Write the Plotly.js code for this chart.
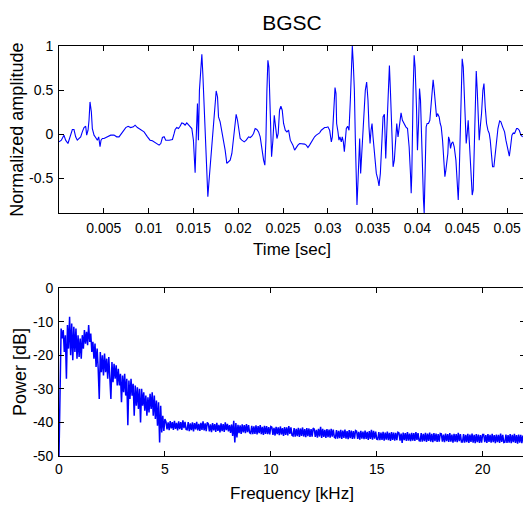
<!DOCTYPE html>
<html>
<head>
<meta charset="utf-8">
<script src="https://cdn.plot.ly/plotly-3.0.1.min.js"></script>
<style>
html,body{margin:0;padding:0;background:#fff;overflow:hidden;width:523px;height:505px;}
#chart{width:526px;height:505px;}
</style>
</head>
<body>
<div id="chart"></div>
<script>
// ---- Top panel: waveform (time in ms, normalized amplitude) ----
const timeMs = [
0.0,0.26,0.55,0.74,1.00,1.22,1.49,1.67,1.86,2.04,2.23,2.42,2.60,2.79,2.98,3.09,3.24,3.35,3.46,3.61,3.72,3.91,4.09,4.28,4.43,4.58,4.69,4.84,5.02,5.40,5.77,6.14,6.44,6.70,7.07,7.45,7.71,8.00,8.30,8.49,8.75,9.12,9.49,9.87,10.16,10.42,10.80,11.17,11.36,11.54,11.73,11.91,12.29,12.66,12.85,
12.96,13.14,13.33,13.51,13.70,13.89,14.07,14.26,14.45,14.63,14.82,15.00,15.12,15.19,15.30,15.38,15.45,15.56,15.67,15.82,15.94,16.05,16.20,16.35,16.49,16.61,16.72,16.87,17.05,17.24,17.43,17.54,17.69,17.80,17.98,18.17,18.36,18.54,18.73,18.92,19.10,19.29,19.47,19.66,19.77,19.92,20.07,20.22,20.40,20.67,20.89,21.15,21.34,21.52,21.71,21.89,22.08,22.27,22.45,22.64,22.83,22.97,23.09,23.20,23.31,23.42,23.53,23.65,23.72,23.87,24.02,24.17,24.32,24.46,24.61,24.76,24.91,25.06,25.25,25.43,25.62,25.81,
26.10,26.29,26.47,26.66,26.85,27.03,27.22,27.41,27.59,27.78,27.96,28.15,28.34,28.52,28.71,28.90,29.08,29.27,29.45,29.64,29.83,30.01,30.20,30.39,30.50,30.61,30.72,30.80,30.91,30.98,31.13,31.24,31.35,31.50,31.61,31.73,31.84,31.95,32.06,32.21,32.36,32.51,32.62,32.73,32.84,32.96,33.07,33.18,33.25,33.37,33.48,33.55,33.66,33.77,33.89,34.04,34.18,34.33,34.48,34.59,34.71,34.82,34.93,35.04,35.15,35.26,35.41,35.60,35.71,35.86,36.01,36.16,36.31,36.46,36.61,36.75,36.87,36.98,37.13,37.28,37.42,37.57,37.69,37.83,38.02,38.17,38.32,38.58,
38.70,38.89,39.07,39.22,39.30,39.37,39.44,39.52,39.63,39.74,39.89,40.00,40.12,40.23,40.34,40.45,40.56,40.67,40.75,40.86,40.97,41.08,41.23,41.38,41.49,41.61,41.75,41.87,41.98,42.13,42.24,42.42,42.54,42.65,42.80,42.91,43.06,43.17,43.28,43.39,43.47,43.58,43.69,43.80,43.95,44.10,44.29,44.44,44.55,44.66,44.77,44.88,44.99,45.11,45.22,45.33,45.44,45.55,45.66,45.78,45.89,46.00,46.11,46.22,46.33,46.45,46.56,46.67,46.78,46.89,47.01,47.15,47.30,47.42,47.56,47.71,47.86,48.01,48.12,48.23,48.38,48.53,48.68,48.83,48.98,49.17,49.31,49.50,49.72,49.87,50.06,50.25,50.39,50.54,50.69,50.84,51.06,51.18,51.36,51.55,51.74
];
const amplitude = [
-0.087,-0.068,-0.011,-0.068,-0.106,-0.03,0.053,0.053,-0.03,-0.068,-0.049,-0.03,0.026,0.075,0.09,-0.011,0.045,0.158,0.366,0.253,0.064,-0.011,-0.038,-0.068,-0.03,-0.143,-0.068,-0.049,-0.049,-0.03,-0.011,-0.011,-0.03,-0.03,0.026,0.075,0.09,0.075,0.083,0.102,0.075,0.053,0.026,-0.03,-0.068,-0.075,-0.098,-0.124,-0.106,-0.038,-0.03,-0.068,-0.068,-0.06,0.008,
0.053,0.075,0.064,0.09,0.128,0.121,0.102,0.128,0.102,0.083,0.064,-0.068,-0.256,-0.437,-0.068,0.309,0.347,-0.068,0.498,0.724,0.905,0.686,0.309,-0.03,-0.445,-0.709,-0.558,-0.37,-0.068,0.158,0.347,0.49,0.422,0.196,0.14,0.045,-0.068,-0.181,-0.332,-0.313,-0.294,-0.219,-0.03,0.196,0.226,0.158,0.045,-0.049,-0.068,-0.087,-0.068,-0.03,-0.038,-0.023,0.008,0.064,0.053,0.026,-0.03,-0.181,-0.294,-0.351,-0.068,0.498,0.837,0.762,0.309,-0.068,-0.256,-0.068,0.215,0.083,-0.049,0.008,0.272,0.317,0.272,0.121,0.045,0.026,0.045,-0.068,
-0.124,-0.181,-0.151,-0.124,-0.106,-0.106,-0.106,-0.113,-0.124,-0.151,-0.124,-0.087,-0.068,-0.03,-0.011,0.0,0.015,0.045,0.064,0.075,0.075,0.083,0.045,-0.087,-0.03,0.158,0.385,0.528,0.46,0.121,0.026,-0.068,-0.03,-0.087,-0.03,-0.087,-0.2,-0.068,0.064,0.09,0.045,0.385,0.724,1.0,0.8,0.498,-0.068,-0.52,-0.803,-0.52,-0.143,-0.049,-0.445,-0.256,0.008,0.309,0.498,0.592,0.385,0.083,-0.106,0.045,0.121,-0.03,-0.143,-0.332,-0.445,-0.52,-0.588,-0.445,-0.068,0.196,0.226,-0.275,0.121,0.573,0.78,0.498,-0.068,-0.37,-0.294,-0.068,0.121,-0.03,0.158,0.241,0.158,0.102,
0.083,0.064,-0.143,-0.445,-0.671,-0.445,0.121,0.498,0.894,0.762,0.309,-0.181,0.121,0.517,0.385,-0.068,-0.445,-0.747,-0.897,-0.445,0.083,0.121,0.121,0.158,0.309,0.498,0.618,0.498,0.309,0.196,0.234,0.196,0.121,0.083,-0.068,-0.256,-0.483,-0.407,-0.313,-0.219,-0.03,-0.068,-0.162,-0.106,-0.087,-0.143,-0.294,-0.596,-0.747,-0.445,0.121,0.686,0.856,0.762,0.498,0.196,-0.106,0.008,0.158,-0.068,-0.294,-0.52,-0.69,-0.633,-0.068,0.385,0.716,0.498,0.121,-0.068,0.083,0.234,0.498,0.573,0.309,0.121,0.045,0.008,-0.068,-0.219,-0.37,-0.37,-0.219,-0.03,0.064,0.151,0.14,0.083,0.026,-0.068,-0.181,-0.249,-0.143,-0.011,0.015,0.008,0.064,0.064,0.045,-0.011,-0.03
];
const timeTickVals = [0.005,0.01,0.015,0.02,0.025,0.03,0.035,0.04,0.045,0.05];
const timeTickText = ['0.005','0.01','0.015','0.02','0.025','0.03','0.035','0.04','0.045','0.05'];
const ampTickVals = [-0.5,0,0.5,1];
const ampTickText = ['-0.5','0','0.5','1'];

// ---- Bottom panel: power spectrum, one value per 0.05 kHz bin from 0 to 22 kHz ----
const freqStepKHz = 0.05;
const powerLowDb = [
-50,-28,-12,-15,-12.5,-19,-14,-27,-11,-18,-8.5,-20,-10.5,-21.5,-11.5,-19,-12,-21,-14,-20.5,
-15,-21,-14,-18,-12.5,-16.5,-13,-17,-11,-16,-13.5,-19,-16,-21,-16.5,-23.5,-18,-24,-33,-19,
-25,-20,-26,-19.5,-25,-21,-27,-20.5,-26,-33,-22,-28,-22.5,-27,-23,-29,-24,-29,-25.5,-34,
-26,-31,-25.5,-32,-27,-40.8,-27.5,-33,-27,-32,-28.5,-38,-29,-35,-29.5,-36,-30,-40,-30,-35,
-31,-36.5,-32,-38,-32.5,-37,-31.5,-36,-31,-38,-32,-39,-33.5,-41,-34,-46,-35,-43,-38,-42.5,
-39
];
const powerHighDb = [
-39.8,-42.1,-40.0,-42.3,-39.6,-41.8,-39.9,-42.2,-39.5,-41.9,-40.1,-42.4,-39.7,-42.0,-39.9,-42.2,-39.4,-41.7,-39.8,-42.1,
-42.2,-39.9,-42.6,-40.3,-42.3,-40.0,-42.7,-40.2,-42.1,-39.8,-42.4,-40.4,-42.5,-40.1,-42.2,-39.7,-42.4,-40.3,-42.6,-40.0,
-40.4,-42.7,-40.6,-42.9,-40.2,-42.4,-40.5,-42.8,-40.1,-42.5,-40.7,-43.0,-40.3,-42.6,-40.5,-42.8,-40.0,-42.3,-40.4,-42.7,
-40.8,-43.1,-40.6,-44.0,-39.5,-46.0,-40.2,-44.5,-40.7,-43.2,-40.9,-43.4,-40.6,-43.0,-40.8,-43.2,-40.5,-42.9,-40.8,-43.1,
-43.3,-41.0,-43.5,-41.2,-43.4,-40.9,-43.6,-41.1,-43.2,-40.8,-43.5,-41.3,-43.7,-41.0,-43.4,-41.1,-43.5,-41.4,-43.6,-41.2,
-41.4,-43.7,-41.6,-43.9,-41.3,-43.5,-41.5,-43.8,-41.2,-43.6,-41.7,-44.0,-41.4,-43.7,-41.5,-43.9,-41.1,-43.4,-41.5,-43.8,
-44.0,-41.7,-44.2,-41.9,-44.1,-41.6,-44.3,-41.8,-44.0,-41.5,-44.2,-42.0,-44.4,-41.7,-44.1,-41.8,-44.3,-42.0,-44.2,-41.7,
-42.0,-44.3,-42.2,-44.5,-41.9,-44.2,-41.3,-44.6,-41.9,-44.3,-42.2,-44.6,-42.0,-44.4,-42.1,-44.5,-41.9,-44.2,-42.1,-44.4,
-44.6,-42.3,-44.8,-42.5,-44.7,-42.2,-44.9,-42.4,-44.6,-42.1,-44.8,-42.6,-45.0,-42.3,-44.7,-42.4,-44.9,-42.6,-44.8,-42.4,
-42.6,-44.9,-42.8,-45.1,-42.5,-44.8,-42.7,-45.0,-42.4,-44.9,-42.8,-45.2,-42.6,-44.9,-42.2,-45.1,-42.5,-44.8,-42.7,-45.0,
-45.1,-42.9,-45.3,-43.0,-45.2,-42.8,-45.4,-43.0,-45.1,-42.7,-45.3,-43.1,-45.5,-42.9,-45.2,-43.0,-45.4,-43.1,-45.3,-42.9,
-43.1,-45.4,-43.3,-46.1,-43.0,-45.3,-43.2,-45.5,-42.9,-45.4,-43.3,-45.6,-43.1,-45.4,-43.2,-45.5,-42.9,-45.2,-43.2,-45.4,
-45.5,-43.2,-45.7,-43.4,-45.6,-43.1,-45.8,-43.3,-45.5,-43.0,-45.7,-43.4,-45.9,-43.2,-45.6,-43.3,-45.8,-43.5,-45.7,-43.3,
-43.4,-45.7,-43.6,-45.9,-43.3,-45.6,-43.5,-45.8,-43.2,-45.7,-43.6,-46.0,-43.4,-45.7,-43.5,-45.9,-43.1,-45.6,-43.5,-45.8,
-45.8,-43.5,-46.0,-43.7,-45.9,-43.4,-46.1,-43.6,-45.8,-43.3,-46.0,-43.7,-46.2,-43.5,-45.9,-43.6,-46.1,-43.8,-46.0,-43.6,
-43.6,-45.9,-43.8,-46.1,-43.5,-45.8,-43.7,-46.0,-43.4,-45.9,-43.8,-46.2,-43.6,-45.9,-43.7,-46.1,-43.3,-45.8,-43.7,-46.0,
-45.9,-43.6,-46.1,-43.8,-46.0,-43.5,-46.2,-43.7,-45.9,-43.4,-46.1,-43.8,-46.3,-43.6,-46.0,-43.7,-46.2,-43.9,-46.1,-43.7
];
const freqTickVals = [0,5,10,15,20];
const freqTickText = ['0','5','10','15','20'];
const powerTickVals = [-50,-40,-30,-20,-10,0];
const powerTickText = ['-50','-40','-30','-20','-10','0'];

const timeSec = timeMs.map(t => t / 1000);
const powerDb = powerLowDb.concat(powerHighDb);
const freqKHz = powerDb.map((_, i) => i * freqStepKHz);

const fontFam = 'Liberation Sans, Arial, Helvetica, sans-serif';
const axisCommon = {
  ticks: 'inside', ticklen: 5, tickwidth: 1, tickcolor: '#000',
  showline: true, linecolor: '#000', linewidth: 1, mirror: 'ticks',
  showgrid: false, zeroline: false,
  tickfont: {family: fontFam, size: 14, color: '#000'}
};

const traces = [
  {x: timeSec, y: amplitude, type: 'scatter', mode: 'lines',
   line: {color: '#0000ff', width: 1.1}, xaxis: 'x', yaxis: 'y', hoverinfo: 'skip'},
  {x: freqKHz, y: powerDb, type: 'scatter', mode: 'lines',
   line: {color: '#0000ff', width: 1.5}, xaxis: 'x2', yaxis: 'y2', hoverinfo: 'skip'}
];

const layout = {
  width: 526, height: 505,
  margin: {l: 59, r: 1, t: 46, b: 49},
  paper_bgcolor: '#fff', plot_bgcolor: '#fff',
  showlegend: false,
  font: {family: fontFam, size: 14, color: '#000'},
  title: {text: 'BGSC', font: {family: fontFam, size: 21, color: '#000'},
          x: 0.5, xref: 'paper', xanchor: 'center', y: 0.955, yref: 'container', yanchor: 'middle'},
  xaxis: Object.assign({}, axisCommon, {
    anchor: 'y', domain: [0, 1], range: [0, 0.052],
    tickmode: 'array', tickvals: timeTickVals, ticktext: timeTickText,
    ticklabelstandoff: 2,
    title: {text: 'Time [sec]', font: {family: fontFam, size: 17, color: '#000'}, standoff: 8}
  }),
  yaxis: Object.assign({}, axisCommon, {
    anchor: 'x', domain: [0.592, 1], range: [-0.897, 1],
    tickmode: 'array', tickvals: ampTickVals, ticktext: ampTickText,
    ticklabelstandoff: 2,
    title: {text: 'Normalized amplitude', font: {family: fontFam, size: 18, color: '#000'}, standoff: 0}
  }),
  xaxis2: Object.assign({}, axisCommon, {
    anchor: 'y2', domain: [0, 1], range: [0, 22],
    tickmode: 'array', tickvals: freqTickVals, ticktext: freqTickText,
    ticklabelstandoff: 0,
    title: {text: 'Frequency [kHz]', font: {family: fontFam, size: 17, color: '#000'}, standoff: 11}
  }),
  yaxis2: Object.assign({}, axisCommon, {
    anchor: 'x2', domain: [0, 0.4093], range: [-50, 0],
    tickmode: 'array', tickvals: powerTickVals, ticktext: powerTickText,
    ticklabelstandoff: 2,
    title: {text: 'Power [dB]', font: {family: fontFam, size: 18, color: '#000'}, standoff: 1}
  })
};

Plotly.newPlot('chart', traces, layout, {staticPlot: true, displayModeBar: false});
</script>
</body>
</html>
